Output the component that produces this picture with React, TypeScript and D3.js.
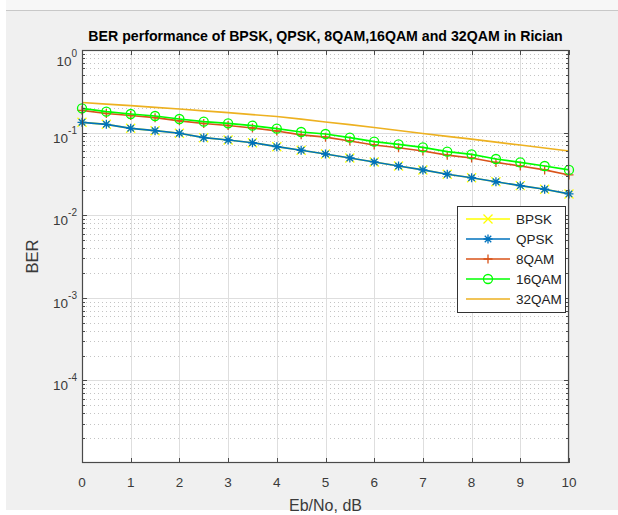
import React, { useRef, useEffect } from 'react';
import * as d3 from 'd3';

// Eb/No steps (dB)
const ebNo = [0, 0.5, 1, 1.5, 2, 2.5, 3, 3.5, 4, 4.5, 5, 5.5, 6, 6.5, 7, 7.5, 8, 8.5, 9, 9.5, 10];

// BER curves
const berBPSK = [0.1333, 0.126, 0.1127, 0.1054, 0.0982, 0.0868, 0.0814, 0.0754, 0.0675, 0.0611, 0.0551, 0.0493, 0.0441, 0.0394, 0.0353, 0.0313, 0.0284, 0.0254, 0.0228, 0.0206, 0.0181];
const berQPSK = [0.1333, 0.126, 0.1127, 0.1054, 0.0982, 0.0868, 0.0814, 0.0754, 0.0675, 0.0611, 0.0551, 0.0493, 0.0441, 0.0394, 0.0353, 0.0313, 0.0284, 0.0254, 0.0228, 0.0206, 0.0181];
const ber8QAM = [0.1862, 0.1703, 0.1611, 0.1515, 0.1389, 0.1289, 0.1219, 0.1137, 0.1045, 0.094, 0.088, 0.0791, 0.0708, 0.0655, 0.0599, 0.0533, 0.0493, 0.0435, 0.0394, 0.0353, 0.0307];
const ber16QAM = [0.1969, 0.1791, 0.1679, 0.1589, 0.1461, 0.1355, 0.1296, 0.1212, 0.1115, 0.1017, 0.0962, 0.0868, 0.0776, 0.0722, 0.0664, 0.0587, 0.0546, 0.0479, 0.0437, 0.0394, 0.0353];
const ber32QAM = [0.2314, 0.2213, 0.2117, 0.2024, 0.1931, 0.1836, 0.1741, 0.1651, 0.1566, 0.1453, 0.1344, 0.1247, 0.1153, 0.106, 0.0975, 0.0902, 0.0832, 0.0767, 0.0708, 0.0651, 0.0599];

const seriesNames = ['BPSK', 'QPSK', '8QAM', '16QAM', '32QAM'];
const xTicks = [0, 1, 2, 3, 4, 5, 6, 7, 8, 9, 10];
const yTicks = [1, 0.1, 0.01, 0.001, 0.0001];
const yTickExp = ['0', '-1', '-2', '-3', '-4'];

const FONT = '"Liberation Sans", Arial, Helvetica, sans-serif';

const App = () => {
  const svgRef = useRef<SVGSVGElement>(null);

  useEffect(() => {
    const svg = d3.select(svgRef.current);
    svg.selectAll('*').remove();

    const left = 82, right = 569, top = 50, bottom = 463;
    const x = d3.scaleLinear().domain([0, 10]).range([left, right]);
    const y = d3.scaleLog().domain([1e-5, 1]).range([bottom, top]);

    // figure background
    svg.append('rect').attr('x', 0).attr('y', 0).attr('width', 618).attr('height', 515).attr('fill', '#ffffff');
    svg.append('rect').attr('x', 6).attr('y', 0).attr('width', 612).attr('height', 10).attr('fill', '#f7f7f7');
    svg.append('rect').attr('x', 6).attr('y', 10).attr('width', 612).attr('height', 500).attr('fill', '#f0f0f0');
    svg.append('line').attr('x1', 6).attr('x2', 618).attr('y1', 10.5).attr('y2', 10.5).attr('stroke', '#c8c8c8');

    // plot area
    svg.append('rect').attr('x', left).attr('y', top).attr('width', right - left).attr('height', bottom - top).attr('fill', '#ffffff');

    const grid = svg.append('g');
    const minor = y.ticks().filter(v => Math.abs(Math.log10(v) - Math.round(Math.log10(v))) > 1e-6);
    grid.selectAll('.minor')
      .data(minor)
      .join('line')
      .attr('x1', left).attr('x2', right)
      .attr('y1', d => Math.round(y(d)) + 0.5).attr('y2', d => Math.round(y(d)) + 0.5)
      .attr('stroke', '#c4c4c4')
      .attr('stroke-dasharray', '1,3');
    grid.selectAll('.majory')
      .data(yTicks)
      .join('line')
      .attr('x1', left).attr('x2', right)
      .attr('y1', d => Math.round(y(d)) + 0.5).attr('y2', d => Math.round(y(d)) + 0.5)
      .attr('stroke', '#dedede');
    grid.selectAll('.majorx')
      .data(xTicks)
      .join('line')
      .attr('x1', d => Math.round(x(d)) + 0.5).attr('x2', d => Math.round(x(d)) + 0.5)
      .attr('y1', top).attr('y2', bottom)
      .attr('stroke', '#dedede');

    // markers
    const markerPath = (kind: string, s: number) => {
      if (kind === 'x') return `M${-s},${-s}L${s},${s}M${-s},${s}L${s},${-s}`;
      if (kind === '+') return `M${-s},0L${s},0M0,${-s}L0,${s}`;
      if (kind === '*') {
        const k = s * 0.72;
        return `M${-s},0L${s},0M0,${-s}L0,${s}M${-k},${-k}L${k},${k}M${-k},${k}L${k},${-k}`;
      }
      return '';
    };

    const series = [
      { name: seriesNames[0], values: berBPSK, color: '#FFFF00', marker: 'x' },
      { name: seriesNames[1], values: berQPSK, color: '#0072BD', marker: '*' },
      { name: seriesNames[2], values: ber8QAM, color: '#D95319', marker: '+' },
      { name: seriesNames[3], values: ber16QAM, color: '#00FF00', marker: 'o' },
      { name: seriesNames[4], values: ber32QAM, color: '#EDB120', marker: '' }
    ];

    const lineGen = d3.line<number>()
      .x((d, i) => x(ebNo[i]))
      .y(d => y(d));

    const plot = svg.append('g');
    series.forEach(s => {
      const g = plot.append('g');
      g.append('path')
        .attr('d', lineGen(s.values))
        .attr('fill', 'none')
        .attr('stroke', s.color)
        .attr('stroke-width', 1.7);
      if (s.marker === 'o') {
        g.selectAll('circle')
          .data(s.values)
          .join('circle')
          .attr('cx', (d, i) => x(ebNo[i]))
          .attr('cy', d => y(d))
          .attr('r', 4.5)
          .attr('fill', 'none')
          .attr('stroke', s.color)
          .attr('stroke-width', 1.3);
      } else if (s.marker) {
        g.selectAll('.m')
          .data(s.values)
          .join('path')
          .attr('transform', (d, i) => `translate(${x(ebNo[i])},${y(d)})`)
          .attr('d', markerPath(s.marker, 4.5))
          .attr('fill', 'none')
          .attr('stroke', s.color)
          .attr('stroke-width', 1.3);
      }
    });

    // axes box
    const axisColor = '#4a4a4a';
    svg.append('rect')
      .attr('x', left + 0.5).attr('y', top + 0.5)
      .attr('width', right - left - 1).attr('height', bottom - top - 1)
      .attr('fill', 'none').attr('stroke', axisColor).attr('stroke-width', 1.2);

    const ticks = svg.append('g').attr('stroke', axisColor);
    xTicks.forEach(t => {
      const px = Math.round(x(t)) + 0.5;
      ticks.append('line').attr('x1', px).attr('x2', px).attr('y1', bottom).attr('y2', bottom - 5);
      ticks.append('line').attr('x1', px).attr('x2', px).attr('y1', top).attr('y2', top + 5);
    });
    yTicks.forEach(t => {
      const py = Math.round(y(t)) + 0.5;
      ticks.append('line').attr('x1', left).attr('x2', left + 5).attr('y1', py).attr('y2', py);
      ticks.append('line').attr('x1', right).attr('x2', right - 5).attr('y1', py).attr('y2', py);
    });
    minor.forEach(t => {
      const py = Math.round(y(t)) + 0.5;
      ticks.append('line').attr('x1', left).attr('x2', left + 3).attr('y1', py).attr('y2', py);
      ticks.append('line').attr('x1', right).attr('x2', right - 3).attr('y1', py).attr('y2', py);
    });

    const textColor = '#3a3a3a';
    svg.append('g')
      .selectAll('text')
      .data(xTicks)
      .join('text')
      .attr('x', d => x(d))
      .attr('y', 487)
      .attr('text-anchor', 'middle')
      .attr('font-family', FONT)
      .attr('font-size', 13.5)
      .attr('fill', textColor)
      .text(d => d);

    const yLab = svg.append('g').attr('font-family', FONT).attr('fill', textColor);
    yTicks.forEach((t, i) => {
      const py = Math.max(y(t), 56);
      const tx = yLab.append('text').attr('x', 77).attr('y', py + 10).attr('text-anchor', 'end').attr('font-size', 13.5);
      tx.append('tspan').text('10');
      tx.append('tspan').attr('dy', -9).attr('font-size', 10).text(yTickExp[i]);
    });

    svg.append('text')
      .attr('x', (left + right) / 2).attr('y', 511)
      .attr('text-anchor', 'middle')
      .attr('font-family', FONT).attr('font-size', 16)
      .attr('fill', textColor)
      .text('Eb/No, dB');

    svg.append('text')
      .attr('transform', `translate(38,${(top + bottom) / 2}) rotate(-90)`)
      .attr('text-anchor', 'middle')
      .attr('font-family', FONT).attr('font-size', 16.5)
      .attr('fill', textColor)
      .text('BER');

    // title: fit the font size to the width seen in the figure
    const title = svg.append('text')
      .attr('x', (left + right) / 2).attr('y', 41)
      .attr('text-anchor', 'middle')
      .attr('font-family', FONT).attr('font-size', 16).attr('font-weight', 'bold')
      .attr('fill', '#000000')
      .text('BER performance of BPSK, QPSK, 8QAM,16QAM and 32QAM in Rician');
    const titleNode = title.node() as SVGTextElement;
    const len = titleNode.getComputedTextLength();
    if (len > 475) title.attr('font-size', (16 * 475) / len);

    // legend
    const lg = svg.append('g');
    lg.append('rect')
      .attr('x', 457.5).attr('y', 206.5).attr('width', 108).attr('height', 106)
      .attr('fill', '#ffffff').attr('stroke', '#333333');
    series.forEach((s, i) => {
      const ry = 219 + i * 20;
      lg.append('line').attr('x1', 466).attr('x2', 510).attr('y1', ry).attr('y2', ry)
        .attr('stroke', s.color).attr('stroke-width', 1.7);
      if (s.marker === 'o') {
        lg.append('circle').attr('cx', 488).attr('cy', ry).attr('r', 4.5)
          .attr('fill', 'none').attr('stroke', s.color).attr('stroke-width', 1.3);
      } else if (s.marker) {
        lg.append('path').attr('transform', `translate(488,${ry})`)
          .attr('d', markerPath(s.marker, 4.5))
          .attr('fill', 'none').attr('stroke', s.color).attr('stroke-width', 1.3);
      }
      lg.append('text').attr('x', 516).attr('y', ry + 5)
        .attr('font-family', FONT).attr('font-size', 13.5).attr('fill', '#222222')
        .text(s.name);
    });
  }, []);

  return (
    <svg
      ref={svgRef}
      width={618}
      height={515}
      style={{ position: 'absolute', left: 0, top: 0 }}
    />
  );
};

export default App;
